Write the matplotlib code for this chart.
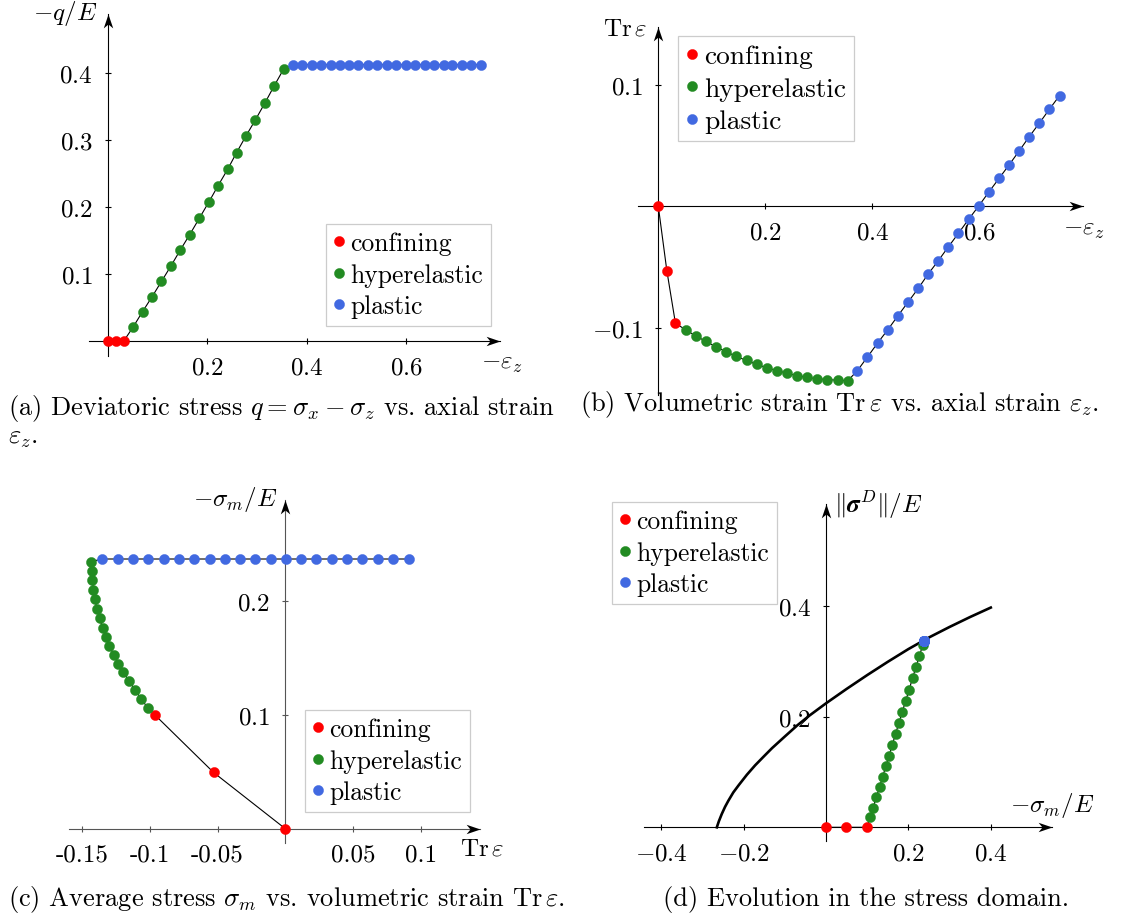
import numpy as np
import matplotlib
matplotlib.use('Agg')
import matplotlib.pyplot as plt
from matplotlib.path import Path
from matplotlib.lines import Line2D

plt.rcParams['font.family'] = 'cmr10'
plt.rcParams['mathtext.fontset'] = 'cm'
plt.rcParams['axes.formatter.use_mathtext'] = True
plt.rcParams['font.size'] = 18

# figure size in pixels
W = 1126
H = 920

red = '#ff0000'
green = '#228b22'
blue = '#4169e1'
frame_grey = '#cccccc'
CAP_SIZE = 19
MS = 7.3

# ---- data ----
# axial strain -eps_z for each phase
eps_conf = [0.0, 0.016, 0.032]
eps_hyper = [0.051, 0.070, 0.089, 0.108, 0.127, 0.146, 0.165, 0.184, 0.203, 0.222,
             0.241, 0.259, 0.278, 0.297, 0.316, 0.335, 0.354]
eps_plast = [0.372, 0.391, 0.410, 0.429, 0.448, 0.467, 0.486, 0.504, 0.523, 0.542,
             0.561, 0.580, 0.599, 0.618, 0.637, 0.656, 0.675, 0.693, 0.712, 0.731, 0.750]

# deviatoric stress -q/E
q_conf = [0.0, 0.0, 0.0]
q_hyper = [0.021, 0.044, 0.066, 0.089, 0.112, 0.136, 0.159, 0.183, 0.207, 0.232,
           0.256, 0.281, 0.306, 0.330, 0.355, 0.381, 0.406]
q_plast = [0.412, 0.412, 0.412, 0.412, 0.412, 0.412, 0.412, 0.412, 0.412, 0.412,
           0.412, 0.412, 0.412, 0.412, 0.412, 0.412, 0.412, 0.412, 0.412, 0.412, 0.412]

# volumetric strain Tr eps
tr_conf = [0.0, -0.053, -0.096]
tr_hyper = [-0.1015, -0.1065, -0.1110, -0.1155, -0.1195, -0.1234, -0.1267, -0.1299, -0.1327,
            -0.1350, -0.1372, -0.1391, -0.1406, -0.1417, -0.1424, -0.1429, -0.1434]
tr_plast = [-0.1351, -0.1238, -0.1123, -0.1014, -0.0899, -0.0786, -0.0674, -0.0559, -0.0449,
            -0.0334, -0.0222, -0.0107, 0.0003, 0.0118, 0.0230, 0.0342, 0.0458, 0.0570,
            0.0682, 0.0797, 0.0910]

# average stress -sigma_m/E
sm_conf = [0.0, 0.0495, 0.0997]
sm_hyper = [0.1062, 0.1142, 0.1221, 0.1300, 0.1376, 0.1451, 0.1530, 0.1608, 0.1688, 0.1768,
            0.1850, 0.1933, 0.2018, 0.2100, 0.2183, 0.2266, 0.2350]
sm_plast = [0.2372, 0.2372, 0.2372, 0.2372, 0.2372, 0.2372, 0.2372, 0.2372, 0.2372, 0.2372,
            0.2372, 0.2372, 0.2372, 0.2372, 0.2372, 0.2372, 0.2372, 0.2372, 0.2372, 0.2372, 0.2372]

# norm of deviatoric stress ||sigma^D||/E
sd_conf = [0.0, 0.0, 0.0]
sd_hyper = [0.0178, 0.0355, 0.0542, 0.0729, 0.0916, 0.1102, 0.1295, 0.1488, 0.1687, 0.1886,
            0.2084, 0.2283, 0.2488, 0.2693, 0.2898, 0.3096, 0.3295]
sd_plast = [0.3363, 0.3363, 0.3363, 0.3363, 0.3363, 0.3363, 0.3363, 0.3363, 0.3363, 0.3363,
            0.3363, 0.3363, 0.3363, 0.3363, 0.3363, 0.3363, 0.3363, 0.3363, 0.3363, 0.3363, 0.3363]

# yield surface in panel (d)
yield_p = [-0.265, -0.260, -0.253, -0.245, -0.237, -0.225, -0.212, -0.192, -0.172, -0.151,
           -0.131, -0.100, -0.070, -0.040, 0.0, 0.05, 0.10, 0.15, 0.20, 0.25, 0.30, 0.35, 0.40]
yield_q = [0.0, 0.011, 0.024, 0.037, 0.048, 0.063, 0.076, 0.095, 0.112, 0.128,
           0.143, 0.164, 0.184, 0.202, 0.224, 0.250, 0.275, 0.299, 0.322, 0.343, 0.362, 0.380, 0.397]

phase_labels = ['confining', 'hyperelastic', 'plastic']

# stealth-like arrow heads for the axis tips
ARROW_RIGHT = Path([(0, 0), (-1, 0.34), (-0.72, 0), (-1, -0.34), (0, 0)],
                   [Path.MOVETO, Path.LINETO, Path.LINETO, Path.LINETO, Path.CLOSEPOLY])
ARROW_UP = Path([(0, 0), (0.34, -1), (0, -0.72), (-0.34, -1), (0, 0)],
                [Path.MOVETO, Path.LINETO, Path.LINETO, Path.LINETO, Path.CLOSEPOLY])

fig = plt.figure(figsize=(W / 100, H / 100), dpi=100)


def fx(px):
    return px / W


def fy(py):
    return 1 - py / H


def make_axes(ox, oy, sx, sy, xlo, xhi, ylo, yhi, axcolor='k'):
    # ox, oy: pixel of the origin, sx, sy: pixels per unit
    left = ox + xlo * sx
    right = ox + xhi * sx
    top = oy - yhi * sy
    bottom = oy - ylo * sy
    ax = fig.add_axes([fx(left), fy(bottom), (right - left) / W, (bottom - top) / H])
    ax.set_xlim(xlo, xhi)
    ax.set_ylim(ylo, yhi)
    ax.patch.set_visible(False)
    ax.spines['top'].set_visible(False)
    ax.spines['right'].set_visible(False)
    ax.spines['left'].set_position(('data', 0))
    ax.spines['bottom'].set_position(('data', 0))
    for s in ['left', 'bottom']:
        ax.spines[s].set_linewidth(0.8)
        ax.spines[s].set_color(axcolor)
    ax.tick_params(direction='inout', length=4.8, width=0.8, pad=8.5, color=axcolor,
                   labelcolor='k', labelsize=18)
    ax.plot([xhi], [0], marker=ARROW_RIGHT, ms=20, color='k', mew=0, clip_on=False, zorder=6)
    ax.plot([0], [yhi], marker=ARROW_UP, ms=20, color='k', mew=0, clip_on=False, zorder=6)
    return ax


def draw_phases(ax, xs, ys):
    allx = xs[0] + xs[1] + xs[2]
    ally = ys[0] + ys[1] + ys[2]
    ax.plot(allx, ally, color='k', lw=0.8, zorder=3, clip_on=False)
    for x, y, c in zip(xs, ys, [red, green, blue]):
        ax.plot(x, y, ls='none', marker='o', ms=MS, mfc=c, mec=c, mew=0.3,
                zorder=4, clip_on=False)


def add_legend(ax, px, py, size=18.4):
    handles = [Line2D([], [], ls='none', marker='o', ms=MS, mfc=c, mec=c, mew=0.3)
               for c in [red, green, blue]]
    leg = ax.legend(handles, phase_labels, loc='upper left',
                    bbox_to_anchor=(fx(px), fy(py)), bbox_transform=fig.transFigure,
                    frameon=True, fancybox=False, edgecolor=frame_grey, framealpha=1,
                    borderpad=0.3, handlelength=0.45, handletextpad=0.2,
                    labelspacing=0.3, borderaxespad=0, fontsize=size)
    leg.get_frame().set_linewidth(0.9)
    leg.set_zorder(7)


# ---- (a) deviatoric stress vs axial strain ----
ax1 = make_axes(107.7, 342.2, 497.5, 671, -0.037, 0.789, -0.022, 0.487)
draw_phases(ax1, [eps_conf, eps_hyper, eps_plast], [q_conf, q_hyper, q_plast])
ax1.set_xticks([0.2, 0.4, 0.6], ['$0.2$', '$0.4$', '$0.6$'])
ax1.set_yticks([0.1, 0.2, 0.3, 0.4], ['$0.1$', '$0.2$', '$0.3$', '$0.4$'])
add_legend(ax1, 326, 225)
fig.text(fx(97), fy(14), r'$-q/E$', ha='right', va='center', fontsize=18)
fig.text(fx(502), fy(364), r'$-\varepsilon_z$', ha='center', va='center', fontsize=18)
fig.text(fx(8), fy(409), r'(a) Deviatoric stress $q = \sigma_x - \sigma_z$ vs. axial strain',
         ha='left', va='center', fontsize=CAP_SIZE)
fig.text(fx(8), fy(438), r'$\varepsilon_z$.', ha='left', va='center', fontsize=CAP_SIZE)

# ---- (b) volumetric strain vs axial strain ----
ax2 = make_axes(658.3, 207.3, 535, 1217, -0.0374, 0.7946, -0.155, 0.1471)
draw_phases(ax2, [eps_conf, eps_hyper, eps_plast], [tr_conf, tr_hyper, tr_plast])
ax2.set_xticks([0.2, 0.4, 0.6], ['$0.2$', '$0.4$', '$0.6$'])
ax2.set_yticks([-0.1, 0.1], ['$-0.1$', '$0.1$'])
add_legend(ax2, 678, 37, size=19.7)
fig.text(fx(647), fy(29), r'$\mathrm{Tr}\,\boldsymbol{\varepsilon}$', ha='right', va='center', fontsize=18)
fig.text(fx(1084), fy(230), r'$-\varepsilon_z$', ha='center', va='center', fontsize=18)
fig.text(fx(580), fy(405), r'(b) Volumetric strain $\mathrm{Tr}\,\boldsymbol{\varepsilon}$ vs. axial strain $\varepsilon_z$.',
         ha='left', va='center', fontsize=CAP_SIZE)

# ---- (c) average stress vs volumetric strain ----
ax3 = make_axes(285.3, 829.7, 1354, 1137, -0.1598, 0.1438, -0.0123, 0.2894, axcolor='#555555')
draw_phases(ax3, [tr_conf, tr_hyper, tr_plast], [sm_conf, sm_hyper, sm_plast])
ax3.set_xticks([-0.15, -0.1, -0.05, 0.05, 0.1], ['-0.15', '-0.1', '-0.05', '0.05', '0.1'])
ax3.set_yticks([0.1, 0.2], ['$0.1$', '$0.2$'])
add_legend(ax3, 305, 711)
fig.text(fx(277), fy(500), r'$-\sigma_m/E$', ha='right', va='center', fontsize=18)
fig.text(fx(482), fy(849), r'$\mathrm{Tr}\,\boldsymbol{\varepsilon}$', ha='center', va='center', fontsize=18)
fig.text(fx(8), fy(900), r'(c) Average stress $\sigma_m$ vs. volumetric strain $\mathrm{Tr}\,\boldsymbol{\varepsilon}$.',
         ha='left', va='center', fontsize=CAP_SIZE)

# ---- (d) stress domain ----
ax4 = make_axes(826, 828.3, 412, 553.5, -0.441, 0.548, -0.0247, 0.584)
ax4.plot(yield_p, yield_q, color='k', lw=1.9, zorder=3)
draw_phases(ax4, [sm_conf, sm_hyper, sm_plast], [sd_conf, sd_hyper, sd_plast])
ax4.set_xticks([-0.4, -0.2, 0.2, 0.4], ['$-0.4$', '$-0.2$', '$0.2$', '$0.4$'])
ax4.set_yticks([0.2, 0.4], ['$0.2$', '$0.4$'])
add_legend(ax4, 612, 503)
fig.text(fx(834), fy(505), r'$\|\boldsymbol{\sigma}^D\|/E$', ha='left', va='center', fontsize=18)
fig.text(fx(1052), fy(806), r'$-\sigma_m/E$', ha='center', va='center', fontsize=18)
fig.text(fx(663), fy(900), '(d) Evolution in the stress domain.', ha='left', va='center', fontsize=CAP_SIZE)

fig.savefig('out.png', dpi=100)
